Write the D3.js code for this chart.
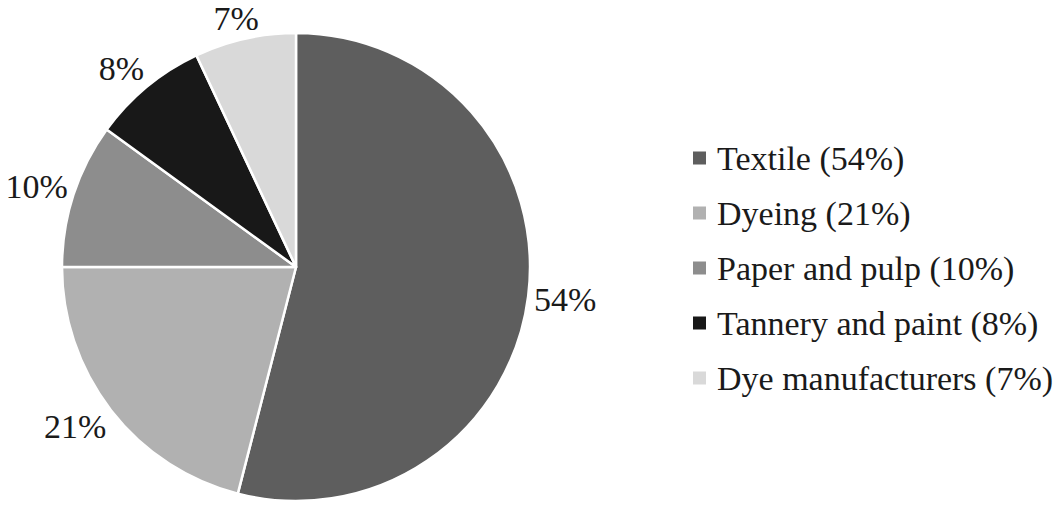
<!DOCTYPE html>
<html>
<head>
<meta charset="utf-8">
<script src="https://cdn.jsdelivr.net/npm/d3@7"></script>
<style>
  html, body { margin: 0; padding: 0; background: #fff; }
  svg { display: block; }
</style>
</head>
<body>
<svg id="chart" width="1064" height="506"></svg>
<script>
const categories = ["Textile", "Dyeing", "Paper and pulp", "Tannery and paint", "Dye manufacturers"];
const values = [54, 21, 10, 8, 7];
const colors = ["#5e5e5e", "#b1b1b1", "#8d8d8d", "#181818", "#d9d9d9"];

const W = 1064, H = 506;
const cx = 296, cy = 267, R = 234;
const fontSize = 34;

// pick an installed serif font
function pickFont() {
  const cands = ["Liberation Serif", "Tinos", "Times New Roman", "DejaVu Serif", "Noto Serif", "FreeSerif"];
  const ctx = document.createElement("canvas").getContext("2d");
  const s = "Textile (54%) mmmWWWiii";
  const bases = ["monospace", "sans-serif"];
  const bw = bases.map(b => { ctx.font = `40px ${b}`; return ctx.measureText(s).width; });
  for (const f of cands) {
    const ok = bases.some((b, i) => { ctx.font = `40px "${f}", ${b}`; return Math.abs(ctx.measureText(s).width - bw[i]) > 0.5; });
    if (ok) return `"${f}", serif`;
  }
  return "serif";
}
const fontFamily = pickFont();

const svg = d3.select("#chart");
svg.append("rect").attr("width", W).attr("height", H).attr("fill", "#fff");

const data = categories.map((c, i) => ({ name: c, value: values[i], color: colors[i] }));

const pie = d3.pie().value(d => d.value).sort(null);
const arc = d3.arc().innerRadius(0).outerRadius(R);
const arcs = pie(data);

const g = svg.append("g").attr("transform", `translate(${cx},${cy})`);
g.selectAll("path.slice")
  .data(arcs)
  .enter().append("path")
  .attr("class", "slice")
  .attr("d", arc)
  .attr("fill", d => d.data.color)
  .attr("stroke", "#fff")
  .attr("stroke-width", 2.5)
  .attr("stroke-linejoin", "round");

// Outside-end labels
const fmt = v => v + "%";
arcs.forEach(a => {
  const mid = (a.startAngle + a.endAngle) / 2;
  const sx = Math.sin(mid), sy = -Math.cos(mid);
  const pr = R + 6;
  const px = sx * pr, py = sy * pr;
  const t = g.append("text")
    .style("font-family", fontFamily)
    .attr("font-size", fontSize)
    .attr("fill", "#1a1a1a")
    .attr("text-anchor", "middle")
    .text(fmt(a.data.value));
  const bb = t.node().getBBox();
  const w = bb.width, h = bb.height * 0.75;
  const clamp = v => Math.max(-1, Math.min(1, v));
  const ox = (w / 2) * clamp(sx * 1.5);
  const oy = (h / 2) * clamp(sy * 1.5);
  t.attr("x", px + ox).attr("y", py + oy + fontSize * 0.34);
});

// Legend
const legendX = 693, legendY0 = 158, legendStep = 55, box = 13;
const lg = svg.append("g");
data.forEach((d, i) => {
  const y = legendY0 + i * legendStep;
  lg.append("rect")
    .attr("x", legendX).attr("y", y - box / 2)
    .attr("width", box).attr("height", box)
    .attr("fill", d.color);
  lg.append("text")
    .style("font-family", fontFamily)
    .attr("x", legendX + 24).attr("y", y + 12)
    .attr("font-size", fontSize)
    .attr("fill", "#1a1a1a")
    .text(`${d.name} (${d.value}%)`);
});
</script>
</body>
</html>
